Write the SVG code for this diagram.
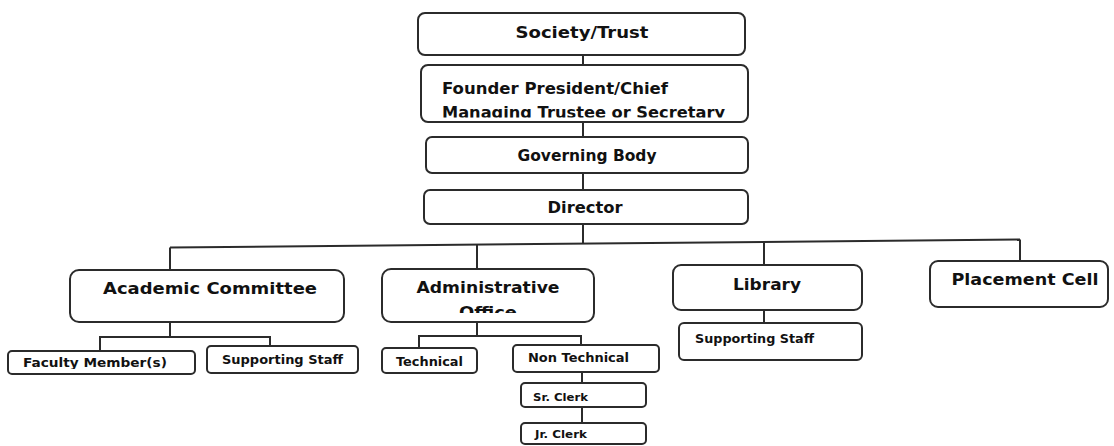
<svg xmlns="http://www.w3.org/2000/svg" width="1114" height="446" viewBox="0 0 1114 446">
<style>
.box{fill:#fff;stroke:#2b2b2b;stroke-width:2}
.conn{fill:none;stroke:#2b2b2b;stroke-width:2}
text{font-family:"DejaVu Sans","Liberation Sans",sans-serif;font-weight:bold;fill:#111}
.t16{font-size:16px}
.t15{font-size:15px}
.t13{font-size:13px}
.t12{font-size:12px}
.t11{font-size:11px}
.c{text-anchor:middle}
</style>
<defs>
<clipPath id="clipFounder"><rect x="421" y="65" width="327" height="52.5"/></clipPath>
<clipPath id="clipAdmin"><rect x="382" y="269" width="212" height="44"/></clipPath>
<clipPath id="clipFaculty"><rect x="8" y="351" width="187" height="18"/></clipPath>
</defs>
<rect width="1114" height="446" fill="#fff"/>
<g id="connectors">
<path class="conn" d="M583 55V65M583 122V137M583 173V190M583 224V243.6"/>
<path class="conn" d="M170 247.5L1020 239.5"/>
<path class="conn" d="M170 247.5V270M477 244.6V269M764 242V265M1020 239.5V261"/>
<path class="conn" d="M170 322V337M100 350V337H270V346"/>
<path class="conn" d="M477 322V336M419 348V336H581V345"/>
<path class="conn" d="M582 372V383M582 407V423"/>
<path class="conn" d="M764 310V323"/>
</g>
<g id="society">
<rect class="box" x="418" y="13" width="327" height="42" rx="7"/>
<text class="t16 c" x="582" y="38" textLength="133" lengthAdjust="spacingAndGlyphs">Society/Trust</text>
</g>
<g id="founder">
<rect class="box" x="421" y="65" width="327" height="57" rx="7"/>
<g clip-path="url(#clipFounder)">
<text class="t16" x="442" y="94" textLength="226" lengthAdjust="spacingAndGlyphs">Founder President/Chief</text>
<text class="t16" x="442" y="118" textLength="283" lengthAdjust="spacingAndGlyphs">Managing Trustee or Secretary</text>
</g>
</g>
<g id="governing">
<rect class="box" x="426" y="137" width="322" height="36" rx="6"/>
<text class="t16 c" x="587" y="161" textLength="139" lengthAdjust="spacingAndGlyphs">Governing Body</text>
</g>
<g id="director">
<rect class="box" x="424" y="190" width="324" height="34" rx="6"/>
<text class="t16 c" x="585" y="213" textLength="75" lengthAdjust="spacingAndGlyphs">Director</text>
</g>
<g id="academic">
<rect class="box" x="70" y="270" width="274" height="52" rx="9"/>
<text class="t15 c" x="210" y="294" textLength="214" lengthAdjust="spacingAndGlyphs">Academic Committee</text>
</g>
<g id="admin">
<rect class="box" x="382" y="269" width="212" height="53" rx="9"/>
<g clip-path="url(#clipAdmin)">
<text class="t15 c" x="488" y="293" textLength="143" lengthAdjust="spacingAndGlyphs">Administrative</text>
<text class="t15 c" x="488" y="318" textLength="58" lengthAdjust="spacingAndGlyphs">Office</text>
</g>
</g>
<g id="library">
<rect class="box" x="673" y="265" width="189" height="45" rx="8"/>
<text class="t15 c" x="767" y="290" textLength="68" lengthAdjust="spacingAndGlyphs">Library</text>
</g>
<g id="placement">
<rect class="box" x="930" y="261" width="178" height="46" rx="8"/>
<text class="t15 c" x="1025" y="285" textLength="147" lengthAdjust="spacingAndGlyphs">Placement Cell</text>
</g>
<g id="faculty">
<rect class="box" x="8" y="351" width="187" height="23" rx="4"/>
<g clip-path="url(#clipFaculty)">
<text class="t12" x="23" y="367" textLength="144" lengthAdjust="spacingAndGlyphs">Faculty Member(s)</text>
</g>
</g>
<g id="support-academic">
<rect class="box" x="207" y="346" width="151" height="27" rx="4"/>
<text class="t13" x="222" y="364" textLength="121" lengthAdjust="spacingAndGlyphs">Supporting Staff</text>
</g>
<g id="technical">
<rect class="box" x="382" y="348" width="95" height="25" rx="4"/>
<text class="t13" x="396" y="366" textLength="67" lengthAdjust="spacingAndGlyphs">Technical</text>
</g>
<g id="nontechnical">
<rect class="box" x="513" y="345" width="146" height="27" rx="4"/>
<text class="t12" x="528" y="362" textLength="101" lengthAdjust="spacingAndGlyphs">Non Technical</text>
</g>
<g id="support-library">
<rect class="box" x="679" y="323" width="183" height="37" rx="5"/>
<text class="t12" x="695" y="343" textLength="119" lengthAdjust="spacingAndGlyphs">Supporting Staff</text>
</g>
<g id="srclerk">
<rect class="box" x="521" y="383" width="125" height="24" rx="4"/>
<text class="t11" x="533" y="401" textLength="55" lengthAdjust="spacingAndGlyphs">Sr. Clerk</text>
</g>
<g id="jrclerk">
<rect class="box" x="521" y="423" width="125" height="21" rx="4"/>
<text class="t11" x="535" y="438" textLength="52" lengthAdjust="spacingAndGlyphs">Jr. Clerk</text>
</g>
</svg>
